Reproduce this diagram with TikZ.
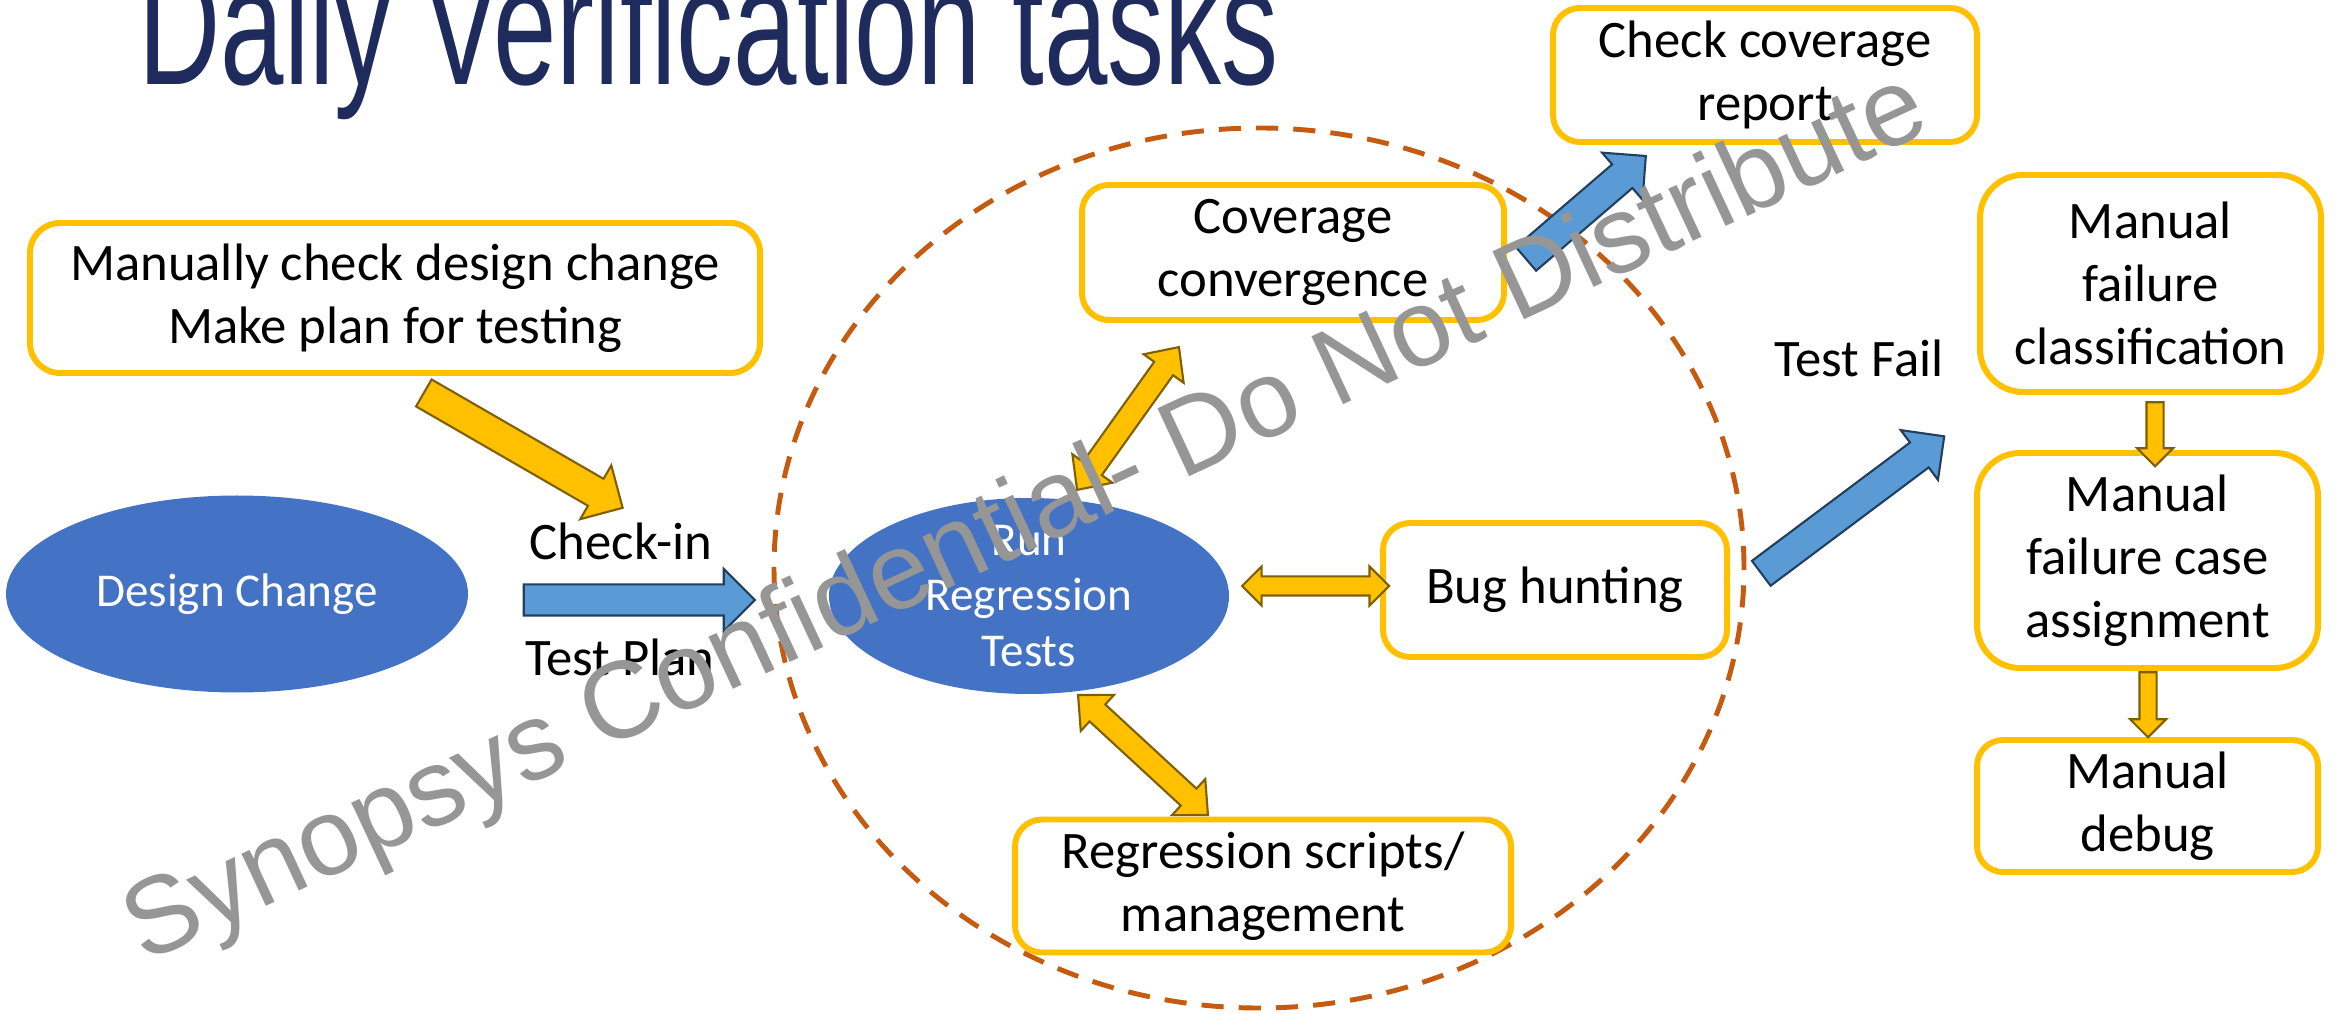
\documentclass[tikz,border=0pt]{standalone}
\usepackage{fontspec}
\setmainfont{Carlito}
\newfontfamily\titlefont[FakeStretch=0.67]{Liberation Sans}
\newfontfamily\markfont{Liberation Sans}
\usetikzlibrary{shapes.geometric,shapes.arrows,calc}

\definecolor{boxyellow}{HTML}{FFC000}
\definecolor{goldedge}{HTML}{7F6000}
\definecolor{ovalblue}{HTML}{4472C4}
\definecolor{arrowblue}{HTML}{5B9BD5}
\definecolor{blueedge}{HTML}{223F5E}
\definecolor{cyclered}{HTML}{C55A11}
\definecolor{titleblue}{HTML}{1F2B5C}
\definecolor{markgray}{HTML}{969696}

% block arrow laid between two named points
\newcommand{\blockarrow}[4][]{%
  \path let \p1=($(#4)-(#3)$), \n1={veclen(\x1,\y1)} in
    (#3) -- (#4) node[midway, sloped, allow upside down, minimum height=\n1, #1] (#2) {};}

\begin{document}
\begin{tikzpicture}[
    task/.style={draw=boxyellow, line width=1.7pt, fill=white, rounded corners=0.27cm,
      align=center, inner sep=0pt, font=\fontsize{15}{18}\selectfont},
    oval/.style={ellipse, fill=ovalblue, text=white, align=center, inner sep=-0.3cm,
      font=\fontsize{13.4}{15.9}\selectfont},
    flowtext/.style={anchor=base, inner sep=0pt, font=\fontsize{15}{18}\selectfont},
    cycleline/.style={cyclered, line width=1.4pt, dash pattern=on 6.3pt off 4.3pt},
    bigarrow/.style={single arrow, single arrow head extend=0.155cm, single arrow tip angle=90,
      inner xsep=0pt, inner ysep=0.145cm, line width=0.6pt},
    bluearrow/.style={bigarrow, draw=blueedge, fill=arrowblue},
    goldarrow/.style={bigarrow, draw=goldedge, fill=boxyellow},
    twoway/.style={double arrow, double arrow head extend=0.13cm, double arrow tip angle=86,
      inner xsep=0pt, inner ysep=0.105cm, line width=0.6pt, draw=goldedge, fill=boxyellow},
    downarrow/.style={single arrow, single arrow head extend=0.095cm, single arrow tip angle=90,
      inner xsep=0pt, inner ysep=0.075cm, line width=0.6pt, draw=goldedge, fill=boxyellow}
  ]
  % frame
  \useasboundingbox (0,0) rectangle (23.36,10.13);
  \clip (0,0) rectangle (23.36,10.13);

  % dashed cycle
  \draw[cycleline] (12.59,4.45) ellipse [x radius=4.85, y radius=4.40];

  % left side
  \node[task, minimum width=7.30cm, minimum height=1.50cm, rounded corners=0.30cm] (plan) at (3.95,7.15)
    {Manually check design change\\Make plan for testing};
  \node[oval, minimum width=4.62cm, minimum height=1.97cm] (design) at (2.37,4.19) {Design Change};
  \node[flowtext] (checkin) at (6.21,4.53) {Check-in};
  \node[flowtext] (testplan) at (6.20,3.38) {Test Plan};

  % inside the cycle
  \node[oval, minimum width=4.00cm, minimum height=1.96cm] (run) at (10.29,4.17) {Run\\Regression\\Tests};
  \node[task, minimum width=4.22cm, minimum height=1.35cm] (converge) at (12.93,7.605) {Coverage\\convergence};
  \node[task, minimum width=3.44cm, minimum height=1.34cm] (bughunt) at (15.55,4.23) {Bug hunting};
  \node[task, minimum width=4.96cm, minimum height=1.33cm] (scripts) at (12.63,1.27) {Regression scripts/\\management};
  \node[task, minimum width=4.24cm, minimum height=1.34cm] (report) at (17.65,9.38) {Check coverage\\report};

  % right column
  \node[flowtext] (testfail) at (18.59,6.36) {Test Fail};
  \node[task, rounded corners=0.43cm, minimum width=3.41cm, minimum height=2.17cm] (classify) at (21.505,7.295)
    {Manual\\failure\\classification};
  \node[task, rounded corners=0.43cm, minimum width=3.41cm, minimum height=2.15cm] (assign) at (21.475,4.525)
    {Manual\\failure case\\assignment};
  \node[task, rounded corners=0.26cm, minimum width=3.41cm, minimum height=1.32cm] (debug) at (21.475,2.07)
    {Manual\\debug};

  % arrow ends
  \coordinate (planout) at (4.17,6.24);
  \coordinate (checkinpt) at (6.16,5.09);
  \coordinate (designout) at (5.16,4.13);
  \coordinate (runin) at (7.47,4.13);
  \coordinate (runtop) at (10.77,5.23);
  \coordinate (convbottom) at (11.79,6.66);
  \coordinate (convout) at (15.20,7.49);
  \coordinate (reportin) at (16.40,8.52);
  \coordinate (runeast) at (12.42,4.27);
  \coordinate (bugwest) at (13.89,4.27);
  \coordinate (runbottom) at (10.78,3.18);
  \coordinate (scriptstop) at (12.08,1.98);
  \coordinate (bugout) at (17.55,4.35);
  \coordinate (failin) at (19.38,5.72);
  \coordinate (classifyout) at (21.55,6.15);
  \coordinate (assignin) at (21.55,5.51);
  \coordinate (assignout) at (21.48,3.45);
  \coordinate (debugin) at (21.48,2.80);

  % arrows
  \blockarrow[goldarrow]{planarrow}{planout}{checkinpt}
  \blockarrow[bluearrow]{checkinarrow}{designout}{runin}
  \blockarrow[twoway]{convarrow}{runtop}{convbottom}
  \blockarrow[bluearrow]{reportarrow}{convout}{reportin}
  \blockarrow[twoway, double arrow head extend=0.10cm, double arrow tip angle=90, inner ysep=0.085cm]{bugarrow}{runeast}{bugwest}
  \blockarrow[twoway]{scriptsarrow}{runbottom}{scriptstop}
  \blockarrow[bluearrow]{failarrow}{bugout}{failin}
  \blockarrow[downarrow]{classifyarrow}{classifyout}{assignin}
  \blockarrow[downarrow]{assignarrow}{assignout}{debugin}

  % title
  \node[anchor=base west, inner sep=0pt, text=titleblue, font=\titlefont\fontsize{48.4}{50}\selectfont] (title) at (1.38,9.28)
    {Daily Verification tasks};

  % watermark
  \node[anchor=base west, inner sep=0pt, rotate=25, text=markgray, font=\markfont\fontsize{31}{33}\selectfont] (mark) at (1.44,0.49)
    {Synopsys Confidential- Do Not Distribute};
\end{tikzpicture}
\end{document}
